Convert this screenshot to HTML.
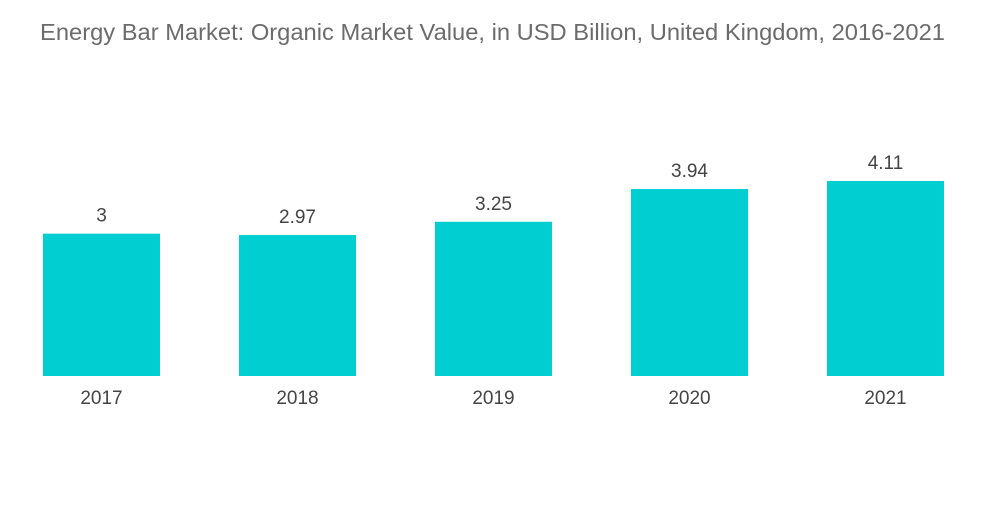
<!DOCTYPE html>
<html><head><meta charset="utf-8"><style>
body{margin:0;background:#fff;width:1000px;height:504px;overflow:hidden;font-family:"Liberation Sans",sans-serif}
</style></head><body>
<svg width="1000" height="504">
<text x="40" y="40" font-size="23" textLength="905" lengthAdjust="spacingAndGlyphs" fill="#6b6b6b">Energy Bar Market: Organic Market Value, in USD Billion, United Kingdom, 2016-2021</text>
<g id="bars"></g>
</svg>
<script>
const categories=["2017","2018","2019","2020","2021"];
const values=[3,2.97,3.25,3.94,4.11];
const valueLabels=["3","2.97","3.25","3.94","4.11"];
const baseY=376, scale=47.45, x0=43, step=196, bw=117;
const yPos=v=>baseY-v*scale;
const xPos=i=>x0+i*step;
const g=document.getElementById('bars');
const ns="http://www.w3.org/2000/svg";
categories.forEach((c,i)=>{
 const r=document.createElementNS(ns,'rect');
 r.setAttribute('x',xPos(i));r.setAttribute('y',yPos(values[i]));
 r.setAttribute('width',bw);r.setAttribute('height',baseY-yPos(values[i]));
 r.setAttribute('fill','#00ced1');
 
 
 g.appendChild(r);
 const t=document.createElementNS(ns,'text');
 t.setAttribute('x',xPos(i)+bw/2);t.setAttribute('y',yPos(values[i])-12);
 t.setAttribute('text-anchor','middle');t.setAttribute('font-size','19');t.setAttribute('fill','#444');
 t.textContent=valueLabels[i];
 
 
 g.appendChild(t);
 const l=document.createElementNS(ns,'text');
 l.setAttribute('x',xPos(i)+bw/2);l.setAttribute('y',404);
 l.setAttribute('text-anchor','middle');l.setAttribute('font-size','19');l.setAttribute('fill','#444');
 l.textContent=c;
 
 
 g.appendChild(l);
});
</script>
</body></html>
